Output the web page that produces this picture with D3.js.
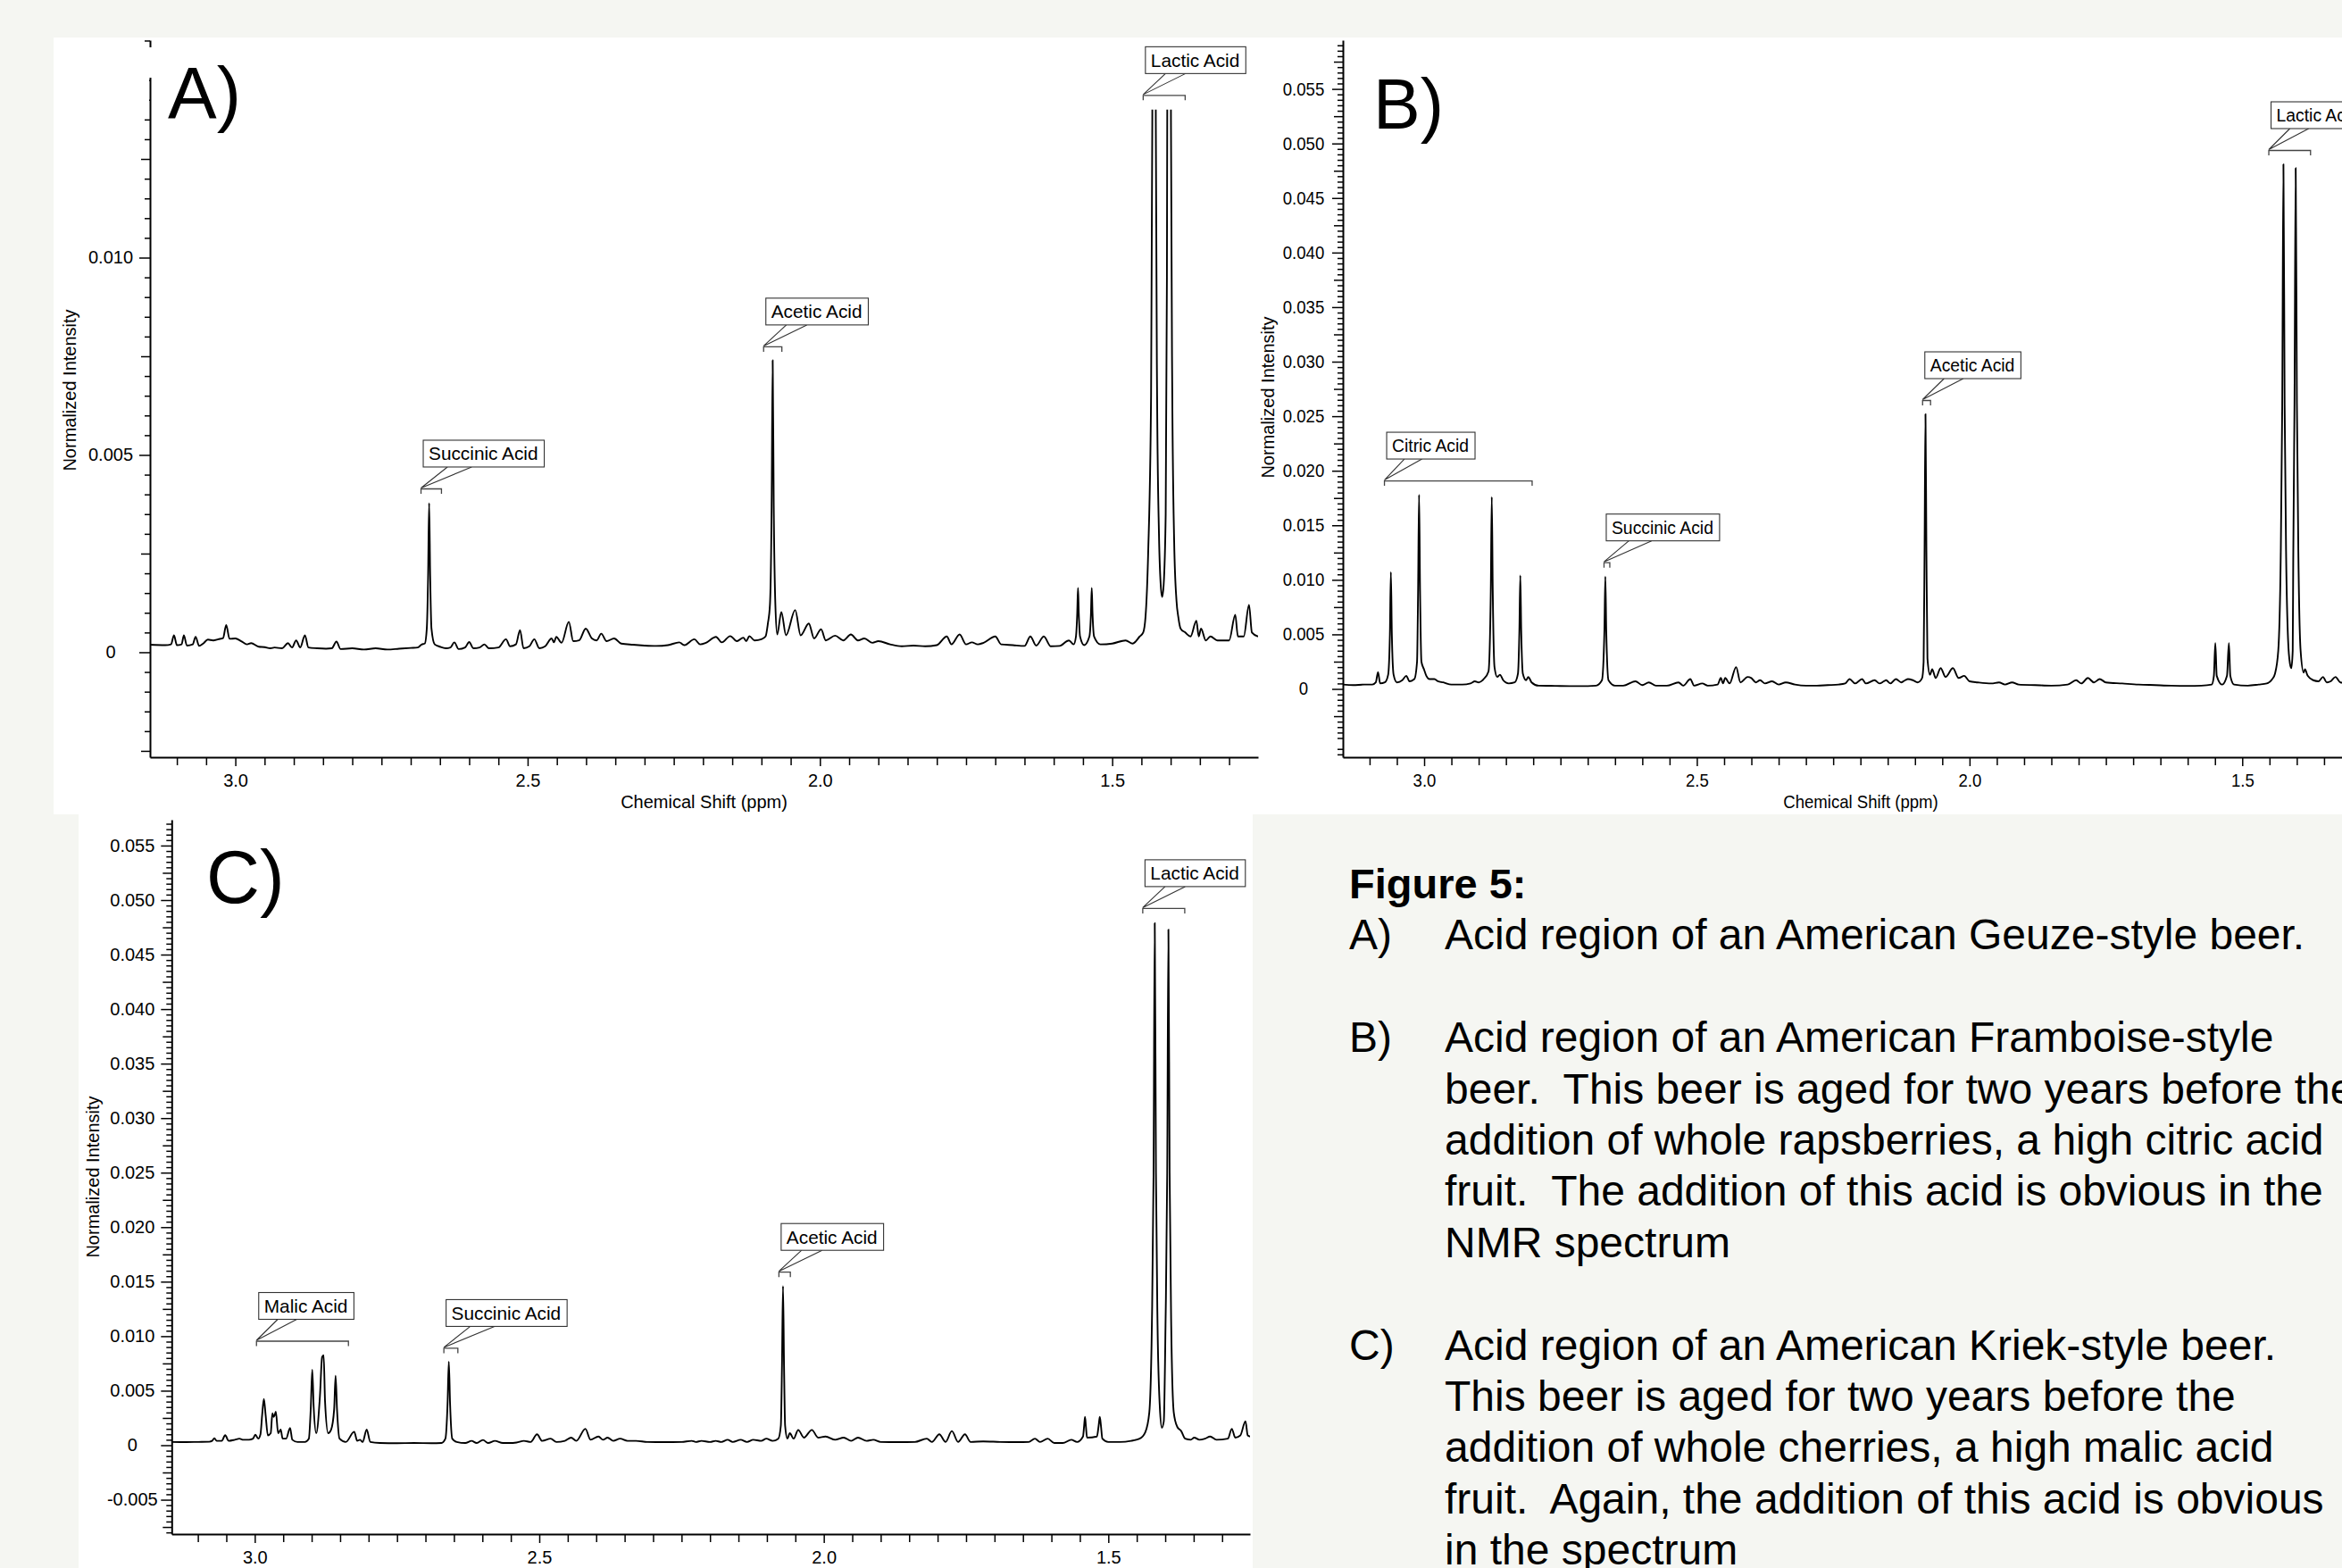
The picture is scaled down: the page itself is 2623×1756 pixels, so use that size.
<!DOCTYPE html>
<html><head><meta charset="utf-8">
<script src="https://cdn.jsdelivr.net/npm/d3@7"></script>
<style>
html,body{margin:0;padding:0;background:#f5f6f2;}
svg{display:block;}
text{font-family:"Liberation Sans",Arial,Helvetica,sans-serif;fill:#000;}
</style></head><body>
<svg id="fig" width="2623" height="1756"></svg>
<script>
// ---------------- DATA ----------------
const xTickValues = [3.0, 2.5, 2.0, 1.5];
const xTickLabels = ["3.0", "2.5", "2.0", "1.5"];
const yTicksA = [0, 0.005, 0.010];
const yTickLabelsA = ["0", "0.005", "0.010"];
const yTicksB = [0, 0.005, 0.010, 0.015, 0.020, 0.025, 0.030, 0.035, 0.040, 0.045, 0.050, 0.055];
const yTickLabelsB = ["0", "0.005", "0.010", "0.015", "0.020", "0.025", "0.030", "0.035", "0.040", "0.045", "0.050", "0.055"];
const yTicksC = [-0.005, 0, 0.005, 0.010, 0.015, 0.020, 0.025, 0.030, 0.035, 0.040, 0.045, 0.050, 0.055];
const yTickLabelsC = ["-0.005", "0", "0.005", "0.010", "0.015", "0.020", "0.025", "0.030", "0.035", "0.040", "0.045", "0.050", "0.055"];
const xTitle = "Chemical Shift (ppm)";
const yTitle = "Normalized Intensity";
const panelLabels = ["A)", "B)", "C)"];

// spectrum A: [ppm, normalized intensity] (lactic doublet runs off the display window)
const specA = [
[3.146,0.00019],[3.12,0.00018],[3.11,0.0002],[3.105,0.00043],[3.1,0.00018],[3.092,0.0002],[3.088,0.00043],[3.083,0.00017],[3.073,0.0002],[3.068,0.00039],[3.062,0.00016],[3.055,0.00022],[3.047,0.00032],[3.038,0.0003],[3.029,0.00033],[3.021,0.00036],[3.0156,0.00069],[3.01,0.00034],[3.0,0.00035],[2.99,0.00028],[2.98,0.0002],[2.973,0.00023],[2.96,0.00014],[2.95,0.00013],[2.94,0.0001],[2.933,0.00012],[2.92,0.0001],[2.91,0.00023],[2.903,0.00012],[2.896,0.0003],[2.889,0.00012],[2.881,0.00043],[2.875,0.00012],[2.86,0.0001],[2.845,0.00009],[2.835,0.0001],[2.827,0.00027],[2.82,0.00008],[2.8,0.0001],[2.78,0.00007],[2.76,0.0001],[2.74,0.00007],[2.72,0.00009],[2.70,0.00011],[2.688,0.00012],[2.681,0.0002],[2.676,0.00022],[2.6725,0.0006],[2.6703,0.0019],[2.6685,0.00378],[2.6667,0.0019],[2.6645,0.0006],[2.659,0.0002],[2.65,0.00014],[2.64,0.0001],[2.632,0.00012],[2.6254,0.00025],[2.618,0.00008],[2.607,0.00012],[2.6,0.00026],[2.593,0.0001],[2.582,0.00012],[2.574,0.0002],[2.566,0.0001],[2.55,0.00012],[2.537,0.00033],[2.53,0.00015],[2.52,0.0002],[2.513,0.00056],[2.507,0.0001],[2.497,0.00015],[2.4886,0.00033],[2.48,0.0001],[2.47,0.00015],[2.459,0.00035],[2.455,0.00025],[2.451,0.00039],[2.442,0.00024],[2.4295,0.00077],[2.422,0.00028],[2.412,0.0003],[2.4006,0.0006],[2.39,0.00035],[2.382,0.0003],[2.374,0.00047],[2.365,0.00028],[2.352,0.00035],[2.34,0.00022],[2.32,0.00019],[2.3,0.00017],[2.28,0.00016],[2.26,0.00018],[2.2406,0.00025],[2.232,0.00018],[2.2148,0.00033],[2.205,0.0002],[2.195,0.00024],[2.1777,0.00039],[2.168,0.00025],[2.1534,0.00041],[2.142,0.00028],[2.131,0.00037],[2.126,0.00028],[2.1207,0.00041],[2.112,0.0003],[2.1,0.00033],[2.093,0.0004],[2.089,0.00073],[2.0855,0.0012],[2.0826,0.0037],[2.0808,0.0074],[2.079,0.0037],[2.0762,0.0012],[2.073,0.00045],[2.066,0.00102],[2.058,0.00043],[2.0423,0.00107],[2.033,0.00043],[2.019,0.00073],[2.01,0.00035],[1.998,0.00058],[1.99,0.0003],[1.974,0.00042],[1.96,0.0003],[1.947,0.00045],[1.935,0.0003],[1.924,0.00035],[1.91,0.00024],[1.90,0.00028],[1.88,0.0002],[1.86,0.00015],[1.84,0.00017],[1.82,0.00015],[1.80,0.00018],[1.783,0.0004],[1.775,0.0002],[1.761,0.00045],[1.75,0.0002],[1.74,0.00025],[1.73,0.0002],[1.72,0.00024],[1.70,0.0004],[1.69,0.0002],[1.67,0.00018],[1.65,0.00016],[1.64,0.0004],[1.63,0.00017],[1.617,0.0004],[1.605,0.00015],[1.59,0.00016],[1.574,0.0003],[1.566,0.0002],[1.562,0.0004],[1.5598,0.001],[1.5585,0.00163],[1.5572,0.001],[1.555,0.0004],[1.548,0.00018],[1.539,0.0004],[1.5363,0.001],[1.535,0.00163],[1.5337,0.001],[1.531,0.0004],[1.52,0.0002],[1.50,0.00022],[1.477,0.0003],[1.465,0.00022],[1.453,0.0004],[1.447,0.0005],[1.443,0.0009],[1.4385,0.0025],[1.4335,0.0065],[1.4314,0.0135],[1.4302,0.025],[1.4284,0.05],[1.4266,0.025],[1.4254,0.0135],[1.4232,0.0065],[1.420,0.003],[1.4165,0.0016],[1.4145,0.0014],[1.412,0.0017],[1.4085,0.0035],[1.4064,0.0095],[1.4043,0.025],[1.4025,0.05],[1.4007,0.025],[1.3995,0.0135],[1.3972,0.0065],[1.394,0.0028],[1.39,0.0013],[1.387,0.0009],[1.383,0.0006],[1.375,0.0005],[1.366,0.0004],[1.356,0.0008],[1.352,0.0004],[1.348,0.0006],[1.34,0.0003],[1.332,0.0004],[1.32,0.0003],[1.30,0.0003],[1.2895,0.00095],[1.285,0.0004],[1.275,0.0004],[1.266,0.0012],[1.261,0.0005],[1.2505,0.0004]
];

const specB = [
[3.149,0.0004],[3.13,0.00035],[3.11,0.0004],[3.095,0.0004],[3.0886,0.0006],[3.0846,0.00154],[3.0806,0.0005],[3.072,0.0006],[3.066,0.0013],[3.0628,0.005],[3.061,0.0107],[3.0592,0.005],[3.056,0.0013],[3.05,0.0006],[3.04,0.0008],[3.0327,0.0012],[3.027,0.0007],[3.018,0.0009],[3.013,0.0025],[3.0111,0.009],[3.0093,0.0178],[3.0075,0.009],[3.005,0.0025],[3.0,0.00176],[2.996,0.0012],[2.99,0.0009],[2.981,0.0009],[2.975,0.0007],[2.965,0.0006],[2.95,0.0004],[2.93,0.0004],[2.915,0.0005],[2.907,0.0007],[2.9,0.0006],[2.891,0.0009],[2.882,0.0016],[2.8778,0.009],[2.876,0.0176],[2.8742,0.009],[2.871,0.002],[2.866,0.0011],[2.861,0.0013],[2.855,0.0008],[2.845,0.0005],[2.834,0.0006],[2.828,0.0014],[2.8254,0.0053],[2.8237,0.0104],[2.822,0.0053],[2.819,0.0014],[2.813,0.0008],[2.809,0.0011],[2.803,0.0006],[2.79,0.0003],[2.76,0.00028],[2.73,0.00026],[2.70,0.00026],[2.685,0.0003],[2.674,0.0008],[2.6695,0.0053],[2.6678,0.0103],[2.6661,0.0053],[2.662,0.0008],[2.65,0.0003],[2.635,0.0003],[2.6126,0.0007],[2.60,0.00035],[2.588,0.0006],[2.575,0.0003],[2.555,0.0003],[2.5336,0.0006],[2.525,0.0003],[2.512,0.0009],[2.505,0.0003],[2.49,0.0005],[2.48,0.0003],[2.462,0.0004],[2.456,0.001],[2.452,0.0005],[2.448,0.001],[2.44,0.0005],[2.428,0.002],[2.42,0.0006],[2.407,0.0011],[2.40,0.001],[2.392,0.0006],[2.384,0.0008],[2.375,0.0005],[2.362,0.0007],[2.35,0.0004],[2.337,0.0006],[2.32,0.0004],[2.3,0.0003],[2.28,0.0003],[2.26,0.00035],[2.24,0.0004],[2.228,0.0005],[2.22,0.0009],[2.21,0.0005],[2.197,0.0009],[2.19,0.0005],[2.174,0.0008],[2.165,0.0005],[2.157,0.0007],[2.153,0.0008],[2.145,0.0005],[2.135,0.0009],[2.125,0.0006],[2.118,0.0008],[2.113,0.0009],[2.104,0.0008],[2.095,0.0006],[2.087,0.001],[2.0842,0.0025],[2.0825,0.0126],[2.0808,0.0252],[2.0791,0.0126],[2.0772,0.0028],[2.0725,0.0013],[2.0685,0.0018],[2.062,0.001],[2.053,0.0019],[2.044,0.0011],[2.0305,0.0019],[2.02,0.001],[2.0098,0.0012],[2.0,0.0007],[1.985,0.0006],[1.96,0.0005],[1.946,0.0006],[1.935,0.0004],[1.922,0.0006],[1.91,0.0004],[1.88,0.00035],[1.85,0.0003],[1.82,0.0004],[1.8045,0.0008],[1.795,0.0005],[1.783,0.001],[1.772,0.0006],[1.7614,0.0009],[1.75,0.0006],[1.72,0.0005],[1.69,0.0004],[1.66,0.00035],[1.63,0.0003],[1.60,0.00028],[1.575,0.0003],[1.556,0.0004],[1.552,0.0012],[1.5494,0.0042],[1.5468,0.0012],[1.537,0.0004],[1.528,0.0012],[1.5245,0.0042],[1.5219,0.0012],[1.515,0.0004],[1.49,0.0003],[1.47,0.0004],[1.455,0.0005],[1.445,0.0009],[1.44,0.0014],[1.434,0.0035],[1.4295,0.012],[1.4267,0.026],[1.4245,0.0481],[1.4223,0.026],[1.4195,0.012],[1.416,0.0045],[1.4125,0.0023],[1.41,0.0019],[1.4075,0.0035],[1.4065,0.012],[1.4042,0.0262],[1.402,0.04775],[1.3998,0.0262],[1.397,0.012],[1.393,0.0035],[1.3874,0.0015],[1.385,0.0018],[1.38,0.0012],[1.37,0.0008],[1.36,0.0007],[1.352,0.0011],[1.345,0.0006],[1.338,0.0007],[1.329,0.0011],[1.32,0.0006],[1.30,0.0005],[1.28,0.0005],[1.26,0.0004],[1.25,0.0004]
];

const specC = [
[3.146,0.0003],[3.12,0.00028],[3.10,0.0003],[3.08,0.00032],[3.075,0.0004],[3.071,0.00064],[3.067,0.0004],[3.058,0.0004],[3.052,0.00092],[3.046,0.0004],[3.035,0.0005],[3.027,0.0006],[3.02,0.0005],[3.01,0.0005],[3.003,0.0006],[2.999,0.00097],[2.994,0.0006],[2.99,0.001],[2.987,0.0028],[2.984,0.00425],[2.981,0.0028],[2.977,0.0009],[2.972,0.0011],[2.969,0.00294],[2.967,0.0026],[2.9655,0.0027],[2.963,0.00307],[2.959,0.0011],[2.9545,0.00143],[2.951,0.0006],[2.945,0.0006],[2.938,0.00157],[2.934,0.0005],[2.925,0.0003],[2.912,0.0003],[2.905,0.0006],[2.9015,0.0035],[2.899,0.00692],[2.8965,0.0035],[2.892,0.0011],[2.8855,0.0045],[2.8817,0.00807],[2.879,0.00826],[2.8765,0.004],[2.871,0.0011],[2.866,0.0014],[2.8605,0.0033],[2.858,0.00637],[2.8555,0.0033],[2.851,0.0006],[2.84,0.0003],[2.8253,0.00124],[2.82,0.0004],[2.815,0.0005],[2.8105,0.0003],[2.8033,0.00143],[2.797,0.0003],[2.78,0.0002],[2.75,0.00018],[2.72,0.0002],[2.69,0.00018],[2.672,0.0002],[2.665,0.0006],[2.6612,0.0038],[2.659,0.00766],[2.6568,0.0038],[2.653,0.0006],[2.645,0.0003],[2.63,0.0002],[2.619,0.0004],[2.61,0.0002],[2.599,0.00048],[2.59,0.0002],[2.578,0.0004],[2.564,0.0002],[2.553,0.0002],[2.54,0.00025],[2.527,0.0004],[2.515,0.0003],[2.504,0.001],[2.495,0.0004],[2.48,0.0006],[2.47,0.0003],[2.455,0.0004],[2.444,0.0007],[2.435,0.0004],[2.419,0.0015],[2.41,0.0005],[2.396,0.0008],[2.388,0.0005],[2.38,0.0007],[2.37,0.0004],[2.358,0.0006],[2.345,0.0004],[2.33,0.0004],[2.31,0.0003],[2.28,0.00028],[2.25,0.0003],[2.232,0.0004],[2.225,0.0003],[2.215,0.0004],[2.20,0.0003],[2.19,0.0004],[2.18,0.0003],[2.169,0.0005],[2.16,0.0003],[2.146,0.0005],[2.135,0.0003],[2.124,0.0005],[2.11,0.0004],[2.101,0.0006],[2.09,0.0004],[2.08,0.0006],[2.0755,0.0018],[2.0735,0.0073],[2.0717,0.0146],[2.0699,0.0073],[2.068,0.0018],[2.064,0.0006],[2.0597,0.0011],[2.053,0.0006],[2.045,0.0014],[2.035,0.0007],[2.021,0.0014],[2.01,0.0007],[1.997,0.0008],[1.98,0.0005],[1.965,0.0007],[1.952,0.0004],[1.94,0.0007],[1.925,0.0004],[1.913,0.0005],[1.90,0.0003],[1.87,0.00028],[1.84,0.0003],[1.819,0.0006],[1.81,0.0003],[1.797,0.001],[1.786,0.0003],[1.775,0.0013],[1.764,0.0003],[1.752,0.001],[1.742,0.0003],[1.72,0.00035],[1.69,0.0003],[1.66,0.00028],[1.64,0.0003],[1.629,0.0006],[1.62,0.0003],[1.6065,0.0006],[1.595,0.0002],[1.58,0.0002],[1.565,0.0005],[1.555,0.0003],[1.5445,0.0008],[1.5425,0.0018],[1.541,0.0026],[1.5395,0.0018],[1.5375,0.0007],[1.52,0.0008],[1.517,0.0018],[1.515,0.0026],[1.513,0.0018],[1.5105,0.0006],[1.50,0.0003],[1.48,0.0003],[1.46,0.0004],[1.445,0.0006],[1.435,0.0012],[1.428,0.003],[1.4235,0.011],[1.4205,0.025],[1.4184,0.0479],[1.4163,0.025],[1.4135,0.011],[1.4095,0.0035],[1.406,0.0016],[1.4025,0.0022],[1.3995,0.011],[1.3965,0.025],[1.3944,0.0473],[1.3923,0.025],[1.3895,0.011],[1.385,0.003],[1.379,0.0017],[1.372,0.0013],[1.365,0.0006],[1.355,0.0005],[1.349,0.0007],[1.34,0.0005],[1.33,0.0006],[1.321,0.0008],[1.31,0.0005],[1.29,0.0006],[1.283,0.0015],[1.277,0.0007],[1.268,0.0009],[1.259,0.0022],[1.255,0.0009],[1.251,0.0008]
];

// annotations: label, bracket from/to (ppm), bracket level (intensity)
const annotLabelsA = ["Succinic Acid", "Acetic Acid", "Lactic Acid"];
const annotFromA = [2.6824, 2.0963, 1.4470];
const annotToA = [2.6474, 2.0651, 1.3752];
const annotLevelA = [0.00414, 0.00774, 0.01411];

const annotLabelsB = ["Citric Acid", "Succinic Acid", "Acetic Acid", "Lactic Acid"];
const annotFromB = [3.0728, 2.6702, 2.0861, 1.4513];
const annotToB = [2.8020, 2.6596, 2.0715, 1.3748];
const annotLevelB = [0.01907, 0.01157, 0.02644, 0.04936];

const annotLabelsC = ["Malic Acid", "Succinic Acid", "Acetic Acid", "Lactic Acid"];
const annotFromC = [2.997, 2.6677, 2.0789, 1.4395];
const annotToC = [2.8354, 2.6431, 2.0588, 1.3657];
const annotLevelC = [0.00954, 0.00889, 0.01587, 0.04923];

const captionHeading = "Figure 5:";
const captionTags = ["A)", "B)", "C)"];
const captionTextA = ["Acid region of an American Geuze-style beer."];
const captionTextB = ["Acid region of an American Framboise-style",
  "beer.  This beer is aged for two years before the",
  "addition of whole rapsberries, a high citric acid",
  "fruit.  The addition of this acid is obvious in the",
  "NMR spectrum"];
const captionTextC = ["Acid region of an American Kriek-style beer.",
  "This beer is aged for two years before the",
  "addition of whole cherries, a high malic acid",
  "fruit.  Again, the addition of this acid is obvious",
  "in the spectrum"];

// ---------------- DRAWING ----------------
const svg = d3.select("#fig");
const defs = svg.append("defs");
svg.append("rect").attr("width", 2623).attr("height", 1756).attr("fill", "#f5f6f2");
svg.append("rect").attr("x", 60).attr("y", 42).attr("width", 2563).attr("height", 870).attr("fill", "#fff");
svg.append("rect").attr("x", 88).attr("y", 912).attr("width", 1315).attr("height", 844).attr("fill", "#fff");

const panels = [
  {id:"A", spec:specA, xDomain:[3.146, 1.2505], left:168, right:1409, yDomain:[-0.00266, 0.01551], top:45, bottom:848,
   clipTopValue:0.01375, yTicks:yTicksA, yLabels:yTickLabelsA, label:panelLabels[0], labelX:188, labelY:132, labelSize:82,
   sx:1, fs:20, yTitleX:77.5, yTitleY:437, xTitleY:898,
   annot:{labels:annotLabelsA, from:annotFromA, to:annotToA, level:annotLevelA}},
  {id:"B", spec:specB, xDomain:[3.149, 1.25], left:1504, right:2664, yDomain:[-0.00626, 0.05947], top:45, bottom:848,
   clipTopValue:null, yTicks:yTicksB, yLabels:yTickLabelsB, label:panelLabels[1], labelX:1538, labelY:144, labelSize:79,
   sx:0.93, fs:20, yTitleX:1419.5, yTitleY:445, xTitleY:898,
   annot:{labels:annotLabelsB, from:annotFromB, to:annotToB, level:annotLevelB}},
  {id:"C", spec:specC, xDomain:[3.146, 1.251], left:192.3, right:1400, yDomain:[-0.00815, 0.05737], top:918, bottom:1718,
   clipTopValue:null, yTicks:yTicksC, yLabels:yTickLabelsC, label:panelLabels[2], labelX:231, labelY:1011, labelSize:83,
   sx:1, fs:20, yTitleX:103.5, yTitleY:1318, xTitleY:1768,
   annot:{labels:annotLabelsC, from:annotFromC, to:annotToC, level:annotLevelC}}
];

function styleText(sel, fs) {
  sel.attr("font-family", "'Liberation Sans', Arial, sans-serif").attr("font-size", fs).attr("fill", "#000");
}

panels.forEach(p => {
  const g = svg.append("g");
  const x = d3.scaleLinear().domain(p.xDomain).range([p.left, p.right]);
  const y = d3.scaleLinear().domain(p.yDomain).range([p.bottom, p.top]);

  // spectrum
  const clipTop = p.clipTopValue != null ? y(p.clipTopValue) : p.top;
  defs.append("clipPath").attr("id", "clip" + p.id).append("rect")
    .attr("x", p.left).attr("y", clipTop).attr("width", p.right - p.left).attr("height", p.bottom - clipTop);
  g.append("path").datum(p.spec)
    .attr("d", d3.line().x(d => x(d[0])).y(d => y(d[1])).curve(d3.curveMonotoneX))
    .attr("fill", "none").attr("stroke", "#000").attr("stroke-width", 1.9)
    .attr("stroke-linejoin", "round").attr("clip-path", `url(#clip${p.id})`);

  // y minor / medium ticks
  const kMin = Math.ceil(p.yDomain[0] / 0.0005 - 1e-6), kMax = Math.floor(p.yDomain[1] / 0.0005 + 1e-6);
  const minor = [], medium = [];
  for (let k = kMin; k <= kMax; k++) {
    if (k % 10 === 0) continue;
    if (k % 5 === 0) medium.push(k * 0.0005); else minor.push(k * 0.0005);
  }
  const yMinorG = g.append("g").attr("transform", `translate(${p.left},0)`)
    .call(d3.axisLeft(y).tickValues(minor).tickSize(6).tickSizeOuter(0).tickFormat(""));
  yMinorG.select(".domain").remove();
  const yMedG = g.append("g").attr("transform", `translate(${p.left},0)`)
    .call(d3.axisLeft(y).tickValues(medium).tickSize(10).tickSizeOuter(0).tickFormat(""));
  yMedG.select(".domain").remove();
  // y major
  const yAx = g.append("g").attr("transform", `translate(${p.left},0)`)
    .call(d3.axisLeft(y).tickValues(p.yTicks).tickSize(12).tickSizeOuter(0).tickFormat((d, i) => p.yLabels[i]));
  yAx.select(".domain").attr("stroke-width", 2);
  yAx.selectAll(".tick text").call(styleText, p.fs).attr("text-anchor", "middle")
    .attr("x", -44 / p.sx).attr("transform", `scale(${p.sx},1)`);
  g.selectAll(".tick line").attr("stroke", "#000").attr("stroke-width", 1.5);

  // x ticks
  const jMin = Math.ceil(Math.min(...p.xDomain) / 0.05 - 1e-6), jMax = Math.floor(Math.max(...p.xDomain) / 0.05 + 1e-6);
  const xMinor = [];
  for (let j = jMin; j <= jMax; j++) if (j % 10 !== 0) xMinor.push(j * 0.05);
  const xMinorG = g.append("g").attr("transform", `translate(0,${p.bottom})`)
    .call(d3.axisBottom(x).tickValues(xMinor).tickSize(9).tickSizeOuter(0).tickFormat(""));
  xMinorG.select(".domain").remove();
  const xAx = g.append("g").attr("transform", `translate(0,${p.bottom})`)
    .call(d3.axisBottom(x).tickValues(xTickValues).tickSize(10).tickSizeOuter(0).tickPadding(9)
      .tickFormat((d, i) => xTickLabels[i]));
  xAx.select(".domain").attr("stroke-width", 2);
  xAx.selectAll(".tick text").call(styleText, p.fs).attr("transform", `scale(${p.sx},1)`);
  g.selectAll(".tick line").attr("stroke", "#000").attr("stroke-width", 1.5);

  // titles
  g.append("text").text(xTitle).call(styleText, p.fs).attr("text-anchor", "middle")
    .attr("dominant-baseline", "central")
    .attr("transform", `translate(${(p.left + p.right) / 2},${p.xTitleY}) scale(${p.sx},1)`);
  g.append("text").text(yTitle).call(styleText, p.fs).attr("text-anchor", "middle")
    .attr("dominant-baseline", "central")
    .attr("transform", `translate(${p.yTitleX},${p.yTitleY}) rotate(-90)`);

  // panel label
  g.append("text").text(p.label).call(styleText, p.labelSize)
    .attr("x", p.labelX).attr("y", p.labelY);

  // annotations
  const a = p.annot;
  a.labels.forEach((lab, i) => {
    const bx0 = x(a.from[i]), bx1 = x(a.to[i]), by = y(a.level[i]);
    const boxX = bx0 + 2.5, boxB = by - 24.5, boxT = boxB - 30;
    const ag = g.append("g");
    ag.append("path").attr("d", `M${bx0},${by + 5.5}V${by}H${bx1}V${by + 5.5}`)
      .attr("fill", "none").attr("stroke", "#444").attr("stroke-width", 1.3);
    const ptr = ag.append("path").attr("fill", "none").attr("stroke", "#333").attr("stroke-width", 1.1);
    const rect = ag.append("rect").attr("x", boxX).attr("y", boxT).attr("height", 30)
      .attr("fill", "#fff").attr("stroke", "#333").attr("stroke-width", 1.1);
    const t = ag.append("text").text(lab).call(styleText, 20.8)
      .attr("transform", `translate(${boxX + 6},${boxB - 7.6}) scale(${p.sx},1)`);
    const w = t.node().getComputedTextLength() * p.sx + 13;
    rect.attr("width", w);
    ptr.attr("d", `M${boxX + 0.2 * w},${boxB}L${bx0},${by - 1}L${boxX + 0.4 * w},${boxB}`);
  });
});

// panel A: label box hides the top part of the intensity axis
svg.append("rect").attr("x", 148).attr("y", 53).attr("width", 24).attr("height", 34).attr("fill", "#fff");
svg.append("rect").attr("x", 148).attr("y", 86).attr("width", 19).attr("height", 40).attr("fill", "#fff");

// caption
const cap = svg.append("g");
const lh = 57.4, base0 = 1006, tagX = 1511, textX = 1618;
cap.append("text").text(captionHeading).call(styleText, 47).attr("font-weight", "bold")
  .attr("x", tagX).attr("y", base0);
[captionTextA, captionTextB, captionTextC].reduce((line, lines, i) => {
  cap.append("text").text(captionTags[i]).call(styleText, 48).attr("x", tagX).attr("y", base0 + line * lh);
  lines.forEach((s, j) => {
    cap.append("text").text(s).call(styleText, 48).style("white-space", "pre")
      .attr("x", textX).attr("y", base0 + (line + j) * lh);
  });
  return line + lines.length + 1;
}, 1);
</script>
</body></html>
